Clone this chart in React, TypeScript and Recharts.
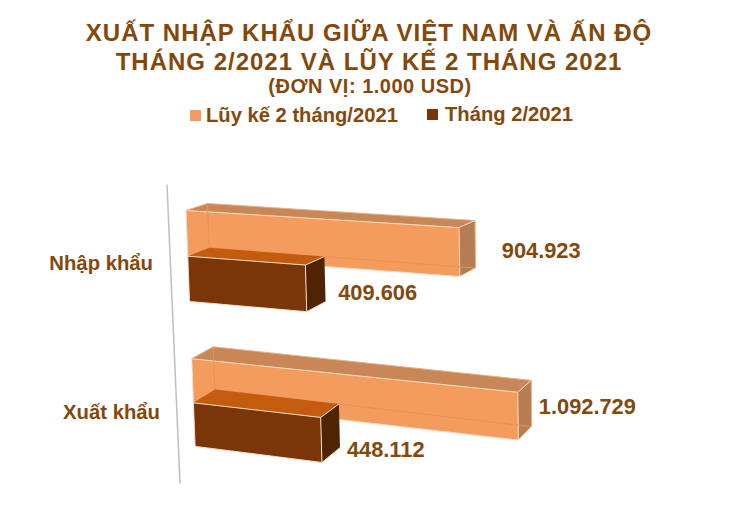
import React from "react";
import { BarChart, Bar, XAxis, YAxis, Legend, LabelList, ReferenceLine } from "recharts";

const categories = ["Nhập khẩu", "Xuất khẩu"];
const cumulativeValues = [904923, 1092729];
const monthValues = [409606, 448112];
const titleLines = [
  "XUẤT NHẬP KHẨU GIỮA VIỆT NAM VÀ ẤN ĐỘ",
  "THÁNG 2/2021 VÀ LŨY KẾ 2 THÁNG 2021",
];
const unitLine = "(ĐƠN VỊ: 1.000 USD)";
const cumulativeName = "Lũy kế 2 tháng/2021";
const monthName = "Tháng 2/2021";

const rows = categories.map((name, i) => ({
  name,
  cumulative: cumulativeValues[i],
  month: monthValues[i],
}));

const FONT = "'Liberation Sans', Arial, sans-serif";
const TEXT = "#85480B";
const EDGE = "#FBDDC2";
const PLOT_LEFT = 186;

const lightTone = { front: "#F49B5E", top: "#C98757", side: "#B67D53", inner: "#EC9156", scale: 1, backEdge: "#E3B08A" };
const darkTone = { front: "#7A3608", top: "#C35C0E", side: "#4E2403", inner: "", scale: 0.955, backEdge: "" };

// Oblique projection of the flat plot into the tilted 3-D view of the picture.
const project = (px: number, py: number, scale = 1) => {
  const v = py - 0.00012 * (py - 210) ** 2;
  const x0 = PLOT_LEFT + (v - 210) * 0.0385;
  const slope = 0.0623 + (v - 210) * 0.000272;
  const run = (px - PLOT_LEFT) * (1.0056 - (v - 210) * 0.0000745) * scale;
  return { x: x0 + run, y: v + slope * run, run, v };
};
const depth = (p: { x: number; y: number; run: number; v: number }) => ({
  x: p.x + 21.5 - p.run * (0.02 + (p.v - 210) * 0.00003),
  y: p.y - 7 - (p.v - 210) * 0.033,
});
const poly = (pts: { x: number; y: number }[]) => pts.map((p) => `${p.x},${p.y}`).join(" ");

const Box3D = (props: any) => {
  const { x, y, width, height, tone } = props;
  const a = project(x, y, tone.scale);
  const b = project(x + width, y, tone.scale);
  const c = project(x + width, y + height, tone.scale);
  const d = project(x, y + height, tone.scale);
  const [ab, bb, cb, db] = [a, b, c, d].map(depth);
  return (
    <g strokeLinejoin="round">
      <polygon points={poly([a, b, bb, ab])} fill={tone.top} />
      <polygon points={poly([b, c, cb, bb])} fill={tone.side} />
      <polygon points={poly([a, b, c, d])} fill={tone.front} stroke={EDGE} strokeWidth={1} />
      {tone.inner ? (
        <polyline points={poly([ab, db, cb])} fill="none" stroke={tone.inner} strokeWidth={1} />
      ) : null}
      {tone.backEdge ? (
        <polyline points={poly([a, ab, bb, cb])} fill="none" stroke={tone.backEdge} strokeWidth={1} />
      ) : null}
      <line x1={b.x} y1={b.y} x2={bb.x} y2={bb.y} stroke={EDGE} strokeWidth={1} />
      <line x1={c.x} y1={c.y} x2={cb.x} y2={cb.y} stroke={EDGE} strokeWidth={1} />
    </g>
  );
};

const labelShift = {
  cumulative: [{ x: 42, y: -26 }, { x: 20.5, y: -34 }],
  month: [{ x: 31.5, y: -19 }, { x: 25, y: -13 }],
};

const formatValue = (v: number) => String(v).replace(/\B(?=(\d{3})+$)/g, ".");

const ValueLabel = (props: any) => {
  const { x, y, width, height, value, index, series, tone } = props;
  const corner = project(x + width, y + height, tone.scale);
  const shift = labelShift[series as "cumulative" | "month"][index];
  return (
    <text
      x={corner.x + shift.x}
      y={corner.y + shift.y}
      fill={TEXT}
      fontFamily={FONT}
      fontWeight={700}
      fontSize={21.8}
      dominantBaseline="central"
    >
      {formatValue(Number(value))}
    </text>
  );
};

const CategoryTick = (props: any) => {
  const { y, payload, index } = props;
  const labelRight = [153, 160];
  const labelDrop = [6.5, 4.5];
  return (
    <text
      x={labelRight[index]}
      y={y + labelDrop[index]}
      textAnchor="end"
      dominantBaseline="central"
      fill={TEXT}
      fontFamily={FONT}
      fontWeight={700}
      fontSize={20.3}
    >
      {payload.value}
    </text>
  );
};

const SlantedAxis = (props: any) => {
  const { y1, y2 } = props;
  const top = Math.min(y1, y2) + 4;
  const bottom = Math.max(y1, y2) + 1;
  const at = (y: number) => 167 + (y - 185) * 0.0436;
  return <line x1={at(top)} y1={top} x2={at(bottom)} y2={bottom} stroke="#BFBFBF" strokeWidth={1.5} />;
};

const LegendRow = () => (
  <div
    style={{
      position: "relative",
      height: 24,
      fontFamily: FONT,
      fontWeight: 700,
      fontSize: 20.2,
      color: TEXT,
      whiteSpace: "nowrap",
      lineHeight: "24px",
    }}
  >
    <span style={{ position: "absolute", left: 190, top: 7, width: 11, height: 11, background: lightTone.front }} />
    <span style={{ position: "absolute", left: 206, top: 0 }}>{cumulativeName}</span>
    <span style={{ position: "absolute", left: 427, top: 6, width: 11, height: 11, background: darkTone.front }} />
    <span style={{ position: "absolute", left: 445, top: -1 }}>{monthName}</span>
  </div>
);

export default function App() {
  return (
    <div style={{ position: "absolute", left: 0, top: 0, width: 734, height: 517, background: "#fff" }}>
      <div
        style={{
          position: "absolute",
          left: 2,
          top: 19,
          width: 734,
          textAlign: "center",
          fontFamily: FONT,
          fontWeight: 700,
          color: TEXT,
          whiteSpace: "nowrap",
        }}
      >
        {titleLines.map((line) => (
          <div key={line} style={{ fontSize: 24, lineHeight: "28.5px", letterSpacing: 1 }}>
            {line}
          </div>
        ))}
        <div style={{ fontSize: 20, lineHeight: "21px", letterSpacing: 0.5, marginLeft: 2 }}>{unitLine}</div>
      </div>
      <BarChart
        width={734}
        height={517}
        data={rows}
        layout="vertical"
        barSize={46}
        barGap={0}
        margin={{ top: 180.5, right: 188, bottom: 34.5, left: 0 }}
        style={{ position: "absolute", left: 0, top: 0 }}
      >
        <XAxis type="number" domain={[0, 1200000]} hide />
        <YAxis
          type="category"
          dataKey="name"
          width={PLOT_LEFT}
          axisLine={false}
          tickLine={false}
          interval={0}
          tick={<CategoryTick />}
        />
        <Legend
          layout="horizontal"
          verticalAlign="middle"
          align="center"
          wrapperStyle={{ top: 103, left: 0, width: 734 }}
          content={<LegendRow />}
        />
        <ReferenceLine x={0} shape={<SlantedAxis />} />
        <Bar
          dataKey="cumulative"
          name={cumulativeName}
          fill={lightTone.front}
          isAnimationActive={false}
          shape={(p: any) => <Box3D {...p} tone={lightTone} />}
        >
          <LabelList dataKey="cumulative" content={<ValueLabel series="cumulative" tone={lightTone} />} />
        </Bar>
        <Bar
          dataKey="month"
          name={monthName}
          fill={darkTone.front}
          isAnimationActive={false}
          shape={(p: any) => <Box3D {...p} tone={darkTone} />}
        >
          <LabelList dataKey="month" content={<ValueLabel series="month" tone={darkTone} />} />
        </Bar>
      </BarChart>
    </div>
  );
}
